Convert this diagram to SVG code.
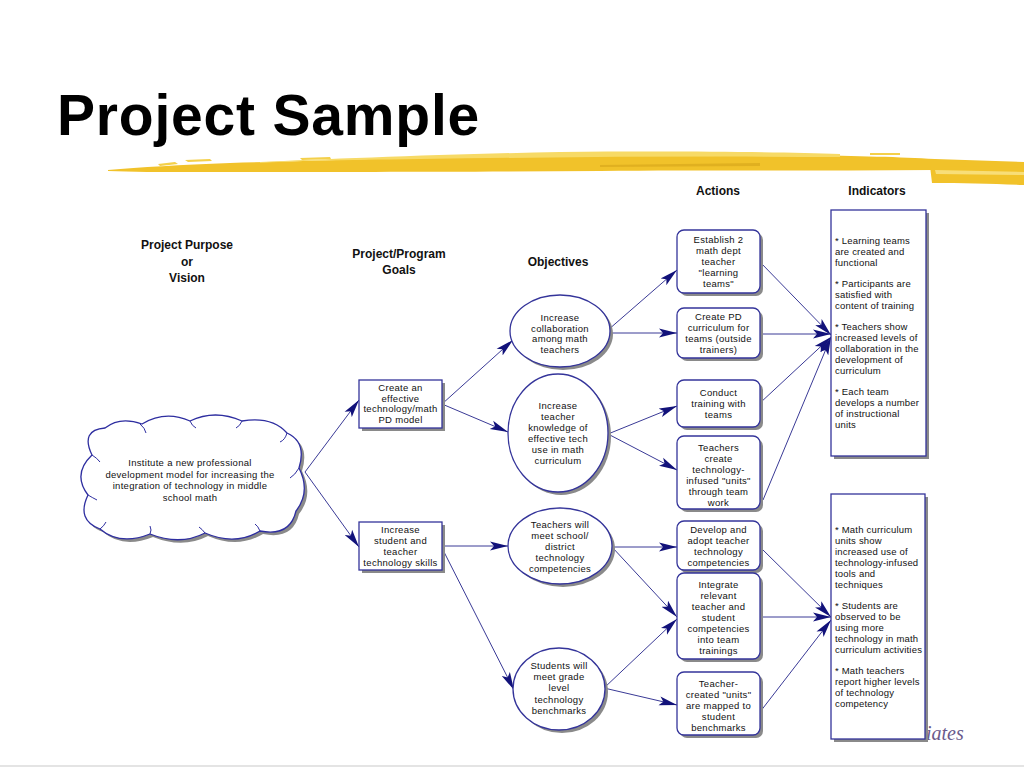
<svg xmlns="http://www.w3.org/2000/svg" width="1024" height="768" viewBox="0 0 1024 768">
<defs>
<style>
.title{font-family:"Liberation Sans",Arial,sans-serif;font-weight:bold;font-size:57px;fill:#000}
.hdr{font-family:"Liberation Sans",Arial,sans-serif;font-weight:bold;font-size:12px;fill:#111;text-anchor:middle}
.t{font-family:"Liberation Sans",Arial,sans-serif;font-size:9.5px;fill:#111;text-anchor:middle;letter-spacing:0.3px}
.tl{font-family:"Liberation Sans",Arial,sans-serif;font-size:9.5px;fill:#111;letter-spacing:0.2px}
.box{fill:#fff;stroke:#34349a;stroke-width:1.3}
.sh{fill:#8a8a8a}
.conn{stroke:#3a3a96;stroke-width:1;fill:none;marker-end:url(#ah)}
</style>
<marker id="ah" viewBox="0 0 18 10" refX="18" refY="5" markerWidth="18" markerHeight="10" markerUnits="userSpaceOnUse" orient="auto">
<path d="M0,0.5 L18,5 L0,9.5 L4,5 Z" fill="#12127a"/>
</marker>
</defs>
<rect width="1024" height="768" fill="#fff"/>
<line x1="0" y1="766" x2="1024" y2="766" stroke="#e4e4e4" stroke-width="2"/>

<text class="title" x="57" y="135" letter-spacing="0.8">Project Sample</text>

<g id="brush">
<path d="M108,170 C140,167 180,165 230,163 C300,161 380,159 450,156 C550,152 700,153 800,155 C860,156 900,157 935,159 L1024,162 L1024,170 L935,170 C820,171 700,170 600,171 C450,172 300,172 200,172 C160,172 130,172 108,171 Z" fill="#f1c22a"/>
<path d="M260,162 C330,159 450,154 560,152 C680,151 780,152 840,154 L840,157 C700,156 560,157 420,159 C340,160 290,161 260,163 Z" fill="#f7da66"/>
<path d="M158,164 L175,162 L178,164 L160,166 Z M185,160 L210,159 L212,161 L188,162 Z M300,158 L330,157 L331,159 L302,160 Z M870,153 L900,153 L900,155 L870,155 Z" fill="#f4d04a"/>
<path d="M600,165 L760,163 L760,166 L600,167 Z" fill="#e0b020"/>
<path d="M930,166 C960,166 995,167 1024,168 L1024,185 C995,184 962,183 932,183 Z" fill="#f1c22a"/>
<path d="M935,170 L1024,172 L1024,175 L936,174 Z" fill="#f8de78"/>
</g>

<g id="headers">
<text class="hdr" x="718" y="195">Actions</text>
<text class="hdr" x="877" y="195">Indicators</text>
<text class="hdr" x="187" y="249">Project Purpose</text>
<text class="hdr" x="187" y="266">or</text>
<text class="hdr" x="187" y="282">Vision</text>
<text class="hdr" x="399" y="258">Project/Program</text>
<text class="hdr" x="399" y="274">Goals</text>
<text class="hdr" x="558" y="266">Objectives</text>
</g>

<g id="connectors">
<line class="conn" x1="305" y1="472" x2="359" y2="400"/>
<line class="conn" x1="305" y1="472" x2="359" y2="547"/>
<line class="conn" x1="442" y1="404" x2="513" y2="340"/>
<line class="conn" x1="442" y1="404" x2="508" y2="432"/>
<line class="conn" x1="442" y1="546" x2="508" y2="546"/>
<line class="conn" x1="442" y1="548" x2="514" y2="690"/>
<line class="conn" x1="608" y1="330" x2="677" y2="270"/>
<line class="conn" x1="610" y1="333" x2="677" y2="333"/>
<line class="conn" x1="608" y1="434" x2="677" y2="406"/>
<line class="conn" x1="608" y1="434" x2="677" y2="470"/>
<line class="conn" x1="612" y1="547" x2="677" y2="547"/>
<line class="conn" x1="612" y1="547" x2="677" y2="617"/>
<line class="conn" x1="604" y1="688" x2="677" y2="619"/>
<line class="conn" x1="604" y1="688" x2="677" y2="705"/>
<line class="conn" x1="760" y1="262" x2="831" y2="335"/>
<line class="conn" x1="760" y1="334" x2="831" y2="334"/>
<line class="conn" x1="760" y1="403" x2="831" y2="337"/>
<line class="conn" x1="763" y1="500" x2="831" y2="337"/>
<line class="conn" x1="762" y1="549" x2="831" y2="617"/>
<line class="conn" x1="760" y1="617" x2="831" y2="617"/>
<line class="conn" x1="760" y1="712" x2="831" y2="620"/>
</g>

<g id="vision">
<path transform="translate(3,3)" class="sh" d="M92,455 Q80,430 105,428 Q120,416 142,424 Q165,410 190,421 Q215,409 242,421 Q272,416 287,433 Q307,442 299,468 Q311,492 296,511 Q290,537 260,531 Q235,546 205,533 Q180,546 150,534 Q120,546 100,529 Q76,520 88,495 Q72,474 92,455 Z"/>
<path fill="#fff" stroke="#2e2ea0" stroke-width="1.3" d="M92,455 Q80,430 105,428 Q120,416 142,424 Q165,410 190,421 Q215,409 242,421 Q272,416 287,433 Q307,442 299,468 Q311,492 296,511 Q290,537 260,531 Q235,546 205,533 Q180,546 150,534 Q120,546 100,529 Q76,520 88,495 Q72,474 92,455 Z"/>
<path fill="none" stroke="#2e2ea0" stroke-width="1" d="M140,424 Q145,428 146,433 M190,421 Q192,426 196,428 M242,421 Q240,426 236,428 M287,433 Q285,440 280,442 M299,468 Q295,475 290,478 M88,495 Q93,498 97,500 M100,529 Q104,526 106,522 M150,534 Q152,530 150,526 M205,533 Q202,529 199,527 M260,531 Q258,526 255,524 M92,455 Q97,458 100,462"/>
<text class="t" x="190" y="466">Institute a new professional</text>
<text class="t" x="190" y="477.5">development model for increasing the</text>
<text class="t" x="190" y="489">integration of technology in middle</text>
<text class="t" x="190" y="500.5">school math</text>
</g>

<g id="goal1">
<rect class="sh" x="362" y="383" width="83" height="48"/>
<rect class="box" x="359" y="380" width="83" height="48"/>
<text class="t" x="400.5" y="391">Create an</text>
<text class="t" x="400.5" y="401.5">effective</text>
<text class="t" x="400.5" y="412">technology/math</text>
<text class="t" x="400.5" y="422.5">PD model</text>
</g>

<g id="goal2">
<rect class="sh" x="362" y="525" width="83" height="48"/>
<rect class="box" x="359" y="522" width="83" height="48"/>
<text class="t" x="400.5" y="533">Increase</text>
<text class="t" x="400.5" y="544">student and</text>
<text class="t" x="400.5" y="555">teacher</text>
<text class="t" x="400.5" y="566">technology skills</text>
</g>

<g id="obj1">
<ellipse class="sh" cx="563" cy="334" rx="50" ry="36"/>
<ellipse class="box" cx="560" cy="331" rx="50" ry="36"/>
<text class="t" x="560" y="321">Increase</text>
<text class="t" x="560" y="331.5">collaboration</text>
<text class="t" x="560" y="342">among math</text>
<text class="t" x="560" y="352.5">teachers</text>
</g>

<g id="obj2">
<ellipse class="sh" cx="561" cy="436" rx="50" ry="59"/>
<ellipse class="box" cx="558" cy="433" rx="50" ry="59"/>
<text class="t" x="558" y="409">Increase</text>
<text class="t" x="558" y="420">teacher</text>
<text class="t" x="558" y="431">knowledge of</text>
<text class="t" x="558" y="442">effective tech</text>
<text class="t" x="558" y="453">use in math</text>
<text class="t" x="558" y="464">curriculum</text>
</g>

<g id="obj3">
<ellipse class="sh" cx="563" cy="549" rx="52" ry="38"/>
<ellipse class="box" cx="560" cy="546" rx="52" ry="38"/>
<text class="t" x="560" y="527.5">Teachers will</text>
<text class="t" x="560" y="538.5">meet school/</text>
<text class="t" x="560" y="549.5">district</text>
<text class="t" x="560" y="560.5">technology</text>
<text class="t" x="560" y="571.5">competencies</text>
</g>

<g id="obj4">
<ellipse class="sh" cx="562" cy="692" rx="46" ry="41"/>
<ellipse class="box" cx="559" cy="689" rx="46" ry="41"/>
<text class="t" x="559" y="668.5">Students will</text>
<text class="t" x="559" y="679.5">meet grade</text>
<text class="t" x="559" y="691">level</text>
<text class="t" x="559" y="702.5">technology</text>
<text class="t" x="559" y="714">benchmarks</text>
</g>

<g id="act1">
<rect class="sh" x="680" y="233" width="83" height="63" rx="7"/>
<rect class="box" x="677" y="230" width="83" height="63" rx="7"/>
<text class="t" x="718.5" y="243">Establish 2</text>
<text class="t" x="718.5" y="254">math dept</text>
<text class="t" x="718.5" y="265">teacher</text>
<text class="t" x="718.5" y="276">"learning</text>
<text class="t" x="718.5" y="287">teams"</text>
</g>

<g id="act2">
<rect class="sh" x="680" y="311" width="83" height="50" rx="7"/>
<rect class="box" x="677" y="308" width="83" height="50" rx="7"/>
<text class="t" x="718.5" y="320">Create PD</text>
<text class="t" x="718.5" y="331">curriculum for</text>
<text class="t" x="718.5" y="342">teams (outside</text>
<text class="t" x="718.5" y="353">trainers)</text>
</g>

<g id="act3">
<rect class="sh" x="680" y="383" width="83" height="47" rx="7"/>
<rect class="box" x="677" y="380" width="83" height="47" rx="7"/>
<text class="t" x="718.5" y="396">Conduct</text>
<text class="t" x="718.5" y="407">training with</text>
<text class="t" x="718.5" y="418">teams</text>
</g>

<g id="act4">
<rect class="sh" x="680" y="439" width="83" height="73" rx="7"/>
<rect class="box" x="677" y="436" width="83" height="73" rx="7"/>
<text class="t" x="718.5" y="451">Teachers</text>
<text class="t" x="718.5" y="462">create</text>
<text class="t" x="718.5" y="473">technology-</text>
<text class="t" x="718.5" y="484">infused "units"</text>
<text class="t" x="718.5" y="495">through team</text>
<text class="t" x="718.5" y="506">work</text>
</g>

<g id="act5">
<rect class="sh" x="680" y="524" width="83" height="49" rx="7"/>
<rect class="box" x="677" y="521" width="83" height="49" rx="7"/>
<text class="t" x="718.5" y="533">Develop and</text>
<text class="t" x="718.5" y="544">adopt teacher</text>
<text class="t" x="718.5" y="555">technology</text>
<text class="t" x="718.5" y="566">competencies</text>
</g>

<g id="act6">
<rect class="sh" x="680" y="576" width="83" height="86" rx="7"/>
<rect class="box" x="677" y="573" width="83" height="86" rx="7"/>
<text class="t" x="718.5" y="588">Integrate</text>
<text class="t" x="718.5" y="599">relevant</text>
<text class="t" x="718.5" y="610">teacher and</text>
<text class="t" x="718.5" y="621">student</text>
<text class="t" x="718.5" y="632">competencies</text>
<text class="t" x="718.5" y="643">into team</text>
<text class="t" x="718.5" y="654">trainings</text>
</g>

<g id="act7">
<rect class="sh" x="680" y="675" width="83" height="63" rx="7"/>
<rect class="box" x="677" y="672" width="83" height="63" rx="7"/>
<text class="t" x="718.5" y="687">Teacher-</text>
<text class="t" x="718.5" y="698">created "units"</text>
<text class="t" x="718.5" y="709">are mapped to</text>
<text class="t" x="718.5" y="720">student</text>
<text class="t" x="718.5" y="731">benchmarks</text>
</g>

<g id="ind1">
<rect class="sh" x="834" y="213" width="95" height="246"/>
<rect class="box" x="831" y="210" width="95" height="246"/>
<text class="tl" x="835" y="244">* Learning teams</text>
<text class="tl" x="835" y="255">are created and</text>
<text class="tl" x="835" y="266">functional</text>
<text class="tl" x="835" y="287">* Participants are</text>
<text class="tl" x="835" y="298">satisfied with</text>
<text class="tl" x="835" y="309">content of training</text>
<text class="tl" x="835" y="330">* Teachers show</text>
<text class="tl" x="835" y="341">increased levels of</text>
<text class="tl" x="835" y="352">collaboration in the</text>
<text class="tl" x="835" y="363">development of</text>
<text class="tl" x="835" y="374">curriculum</text>
<text class="tl" x="835" y="395">*  Each team</text>
<text class="tl" x="835" y="406">develops a number</text>
<text class="tl" x="835" y="417">of instructional</text>
<text class="tl" x="835" y="428">units</text>
</g>

<text x="926" y="740" font-family="Liberation Serif,serif" font-style="italic" font-size="20" fill="#6a5a8c">iates</text>

<g id="ind2">
<rect class="sh" x="834" y="497" width="94" height="245"/>
<rect class="box" x="831" y="494" width="94" height="245"/>
<text class="tl" x="835" y="533">* Math curriculum</text>
<text class="tl" x="835" y="544">units show</text>
<text class="tl" x="835" y="555">increased use of</text>
<text class="tl" x="835" y="566">technology-infused</text>
<text class="tl" x="835" y="577">tools and</text>
<text class="tl" x="835" y="588">techniques</text>
<text class="tl" x="835" y="609">* Students are</text>
<text class="tl" x="835" y="620">observed to be</text>
<text class="tl" x="835" y="631">using more</text>
<text class="tl" x="835" y="642">technology in math</text>
<text class="tl" x="835" y="653">curriculum activities</text>
<text class="tl" x="835" y="674">* Math teachers</text>
<text class="tl" x="835" y="685">report higher levels</text>
<text class="tl" x="835" y="696">of technology</text>
<text class="tl" x="835" y="707">competency</text>
</g>
</svg>
